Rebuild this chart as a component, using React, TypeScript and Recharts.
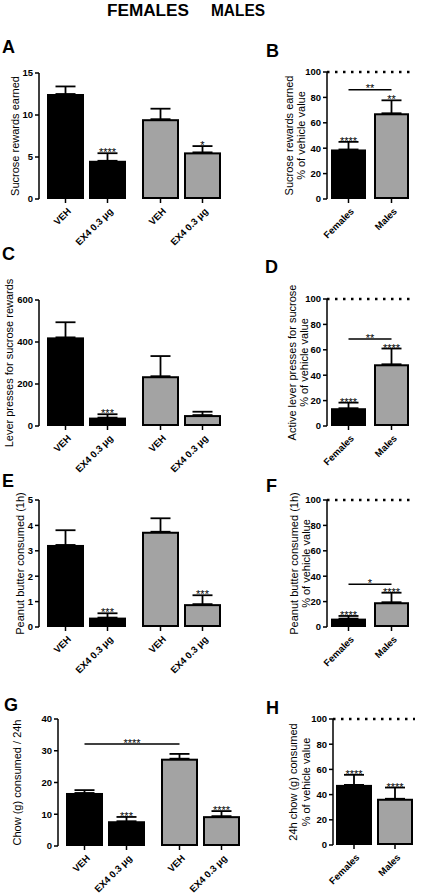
import React from 'react';
import { BarChart, Bar, XAxis, YAxis, ErrorBar, ReferenceLine } from 'recharts';

const FONT = '"Liberation Sans", Arial, Helvetica, sans-serif';
const BLACK = '#000000';
const GRAY = '#a3a3a3';

// ---------- categories / tick labels ----------
const sexes = ['Females', 'Males'];
const treatments = ['VEH', 'EX4 0.3 μg'];
const titleWords = ['FEMALES', 'MALES'];

// ---------- A: sucrose rewards earned ----------
const rewardsVeh = [12.5, 9.5];
const rewardsVehErr = [0.9, 1.25];
const rewardsEx4 = [4.55, 5.55];
const rewardsEx4Err = [0.9, 0.75];
const rewardsEx4Stars = ['****', '*'];
const rewardsTicks = [0, 5, 10, 15];

// ---------- B: sucrose rewards % of vehicle ----------
const rewardsPct = [39, 67.5];
const rewardsPctErr = [6, 10.2];
const rewardsPctStars = ['****', '**'];
const rewardsPctBracket = 86;
const rewardsPctBracketStars = '**';

// ---------- C: lever presses ----------
const pressesVeh = [422, 237];
const pressesVehErr = [72, 96];
const pressesEx4 = [40, 52];
const pressesEx4Err = [16, 16];
const pressesEx4Stars = ['***', ''];
const pressesTicks = [0, 200, 400, 600];

// ---------- D: lever presses % of vehicle ----------
const pressesPct = [14, 48.6];
const pressesPctErr = [4.4, 12.4];
const pressesPctStars = ['****', '****'];
const pressesPctBracket = 68.5;
const pressesPctBracketStars = '**';

// ---------- E: peanut butter ----------
const peanutVeh = [3.23, 3.75];
const peanutVehErr = [0.58, 0.53];
const peanutEx4 = [0.37, 0.9];
const peanutEx4Err = [0.17, 0.35];
const peanutEx4Stars = ['***', '***'];
const peanutTicks = [0, 1, 2, 3, 4, 5];

// ---------- F: peanut butter % of vehicle ----------
const peanutPct = [6.6, 19.5];
const peanutPctErr = [2.1, 7.5];
const peanutPctStars = ['****', '****'];
const peanutPctBracket = 33.6;
const peanutPctBracketStars = '*';

// ---------- G: chow 24h ----------
const chowVeh = [16.7, 27.5];
const chowVehErr = [0.9, 1.5];
const chowEx4 = [7.8, 9.4];
const chowEx4Err = [1.35, 1.6];
const chowEx4Stars = ['***', '****'];
const chowVehBracket = 32.1;
const chowVehBracketStars = '****';
const chowTicks = [0, 10, 20, 30, 40];

// ---------- H: chow % of vehicle ----------
const chowPct = [47.7, 36.7];
const chowPctErr = [8, 8.9];
const chowPctStars = ['****', '****'];

const pctTicks = [0, 20, 40, 60, 80, 100];
const vehicleLevel = 100;

type Bracket = { value: number; stars: string } | null;
type Series = {
  key: string;
  errKey: string;
  values: number[];
  errs: number[];
  stars: string[];
  labels: string[];
  bracket: Bracket;
};
type PanelCfg = {
  letter: string;
  letterPos: [number, number];
  box: { left: number; top: number; width: number; height: number };
  plot: { x0: number; x1: number; y0: number; y1: number };
  domain: [number, number];
  ticks: number[];
  yLabel: string[];
  yLabelX: number[];
  barSize: number;
  barGap: number;
  series: Series[];
  refLine: number | null;
};

const noStars = ['', ''];

function grouped(
  veh: number[], vehErr: number[], vehStars: string[], vehBracket: Bracket,
  ex4: number[], ex4Err: number[], ex4Stars: string[]
): Series[] {
  return [
    { key: 'veh', errKey: 'vehErr', values: veh, errs: vehErr, stars: vehStars, labels: [treatments[0], treatments[0]], bracket: vehBracket },
    { key: 'ex4', errKey: 'ex4Err', values: ex4, errs: ex4Err, stars: ex4Stars, labels: [treatments[1], treatments[1]], bracket: null },
  ];
}
function single(values: number[], errs: number[], stars: string[], bracket: Bracket): Series[] {
  return [{ key: 'pct', errKey: 'pctErr', values, errs, stars, labels: sexes, bracket }];
}

const PANELS: PanelCfg[] = [
  {
    letter: 'A', letterPos: [2, 53],
    box: { left: 0, top: 55, width: 236, height: 205 },
    plot: { x0: 39, x1: 229, y0: 73, y1: 199 },
    domain: [0, 15], ticks: rewardsTicks,
    yLabel: ['Sucrose rewards earned'], yLabelX: [14.5],
    barSize: 37, barGap: 5,
    series: grouped(rewardsVeh, rewardsVehErr, noStars, null, rewardsEx4, rewardsEx4Err, rewardsEx4Stars),
    refLine: null,
  },
  {
    letter: 'B', letterPos: [266, 57],
    box: { left: 236, top: 55, width: 186, height: 205 },
    plot: { x0: 327, x1: 413, y0: 72, y1: 199 },
    domain: [0, 100], ticks: pctTicks,
    yLabel: ['Sucrose rewards earned', '% of vehicle value'], yLabelX: [289, 301],
    barSize: 35, barGap: 4,
    series: single(rewardsPct, rewardsPctErr, rewardsPctStars, { value: rewardsPctBracket, stars: rewardsPctBracketStars }),
    refLine: vehicleLevel,
  },
  {
    letter: 'C', letterPos: [2, 260],
    box: { left: 0, top: 280, width: 236, height: 200 },
    plot: { x0: 39, x1: 229, y0: 300, y1: 426 },
    domain: [0, 600], ticks: pressesTicks,
    yLabel: ['Lever presses for sucrose rewards'], yLabelX: [9],
    barSize: 37, barGap: 5,
    series: grouped(pressesVeh, pressesVehErr, noStars, null, pressesEx4, pressesEx4Err, pressesEx4Stars),
    refLine: null,
  },
  {
    letter: 'D', letterPos: [265, 273],
    box: { left: 236, top: 280, width: 186, height: 200 },
    plot: { x0: 327, x1: 413, y0: 299, y1: 426 },
    domain: [0, 100], ticks: pctTicks,
    yLabel: ['Active lever presses for sucrose', '% of vehicle value'], yLabelX: [292, 304],
    barSize: 35, barGap: 4,
    series: single(pressesPct, pressesPctErr, pressesPctStars, { value: pressesPctBracket, stars: pressesPctBracketStars }),
    refLine: vehicleLevel,
  },
  {
    letter: 'E', letterPos: [2, 487],
    box: { left: 0, top: 490, width: 236, height: 205 },
    plot: { x0: 39, x1: 229, y0: 500, y1: 627 },
    domain: [0, 5], ticks: peanutTicks,
    yLabel: ['Peanut butter consumed (1h)'], yLabelX: [20],
    barSize: 37, barGap: 5,
    series: grouped(peanutVeh, peanutVehErr, noStars, null, peanutEx4, peanutEx4Err, peanutEx4Stars),
    refLine: null,
  },
  {
    letter: 'F', letterPos: [266, 492],
    box: { left: 236, top: 490, width: 186, height: 205 },
    plot: { x0: 327, x1: 413, y0: 500, y1: 627 },
    domain: [0, 100], ticks: pctTicks,
    yLabel: ['Peanut butter consumed (1h)', '% of vehicle value'], yLabelX: [294, 306],
    barSize: 35, barGap: 4,
    series: single(peanutPct, peanutPctErr, peanutPctStars, { value: peanutPctBracket, stars: peanutPctBracketStars }),
    refLine: vehicleLevel,
  },
  {
    letter: 'G', letterPos: [4, 711],
    box: { left: 0, top: 705, width: 255, height: 188 },
    plot: { x0: 58, x1: 248, y0: 719, y1: 846 },
    domain: [0, 40], ticks: chowTicks,
    yLabel: ['Chow (g) consumed / 24h'], yLabelX: [17],
    barSize: 37, barGap: 5,
    series: grouped(chowVeh, chowVehErr, noStars, { value: chowVehBracket, stars: chowVehBracketStars }, chowEx4, chowEx4Err, chowEx4Stars),
    refLine: null,
  },
  {
    letter: 'H', letterPos: [266, 714],
    box: { left: 252, top: 705, width: 170, height: 188 },
    plot: { x0: 333, x1: 415, y0: 719, y1: 845 },
    domain: [0, 100], ticks: pctTicks,
    yLabel: ['24h chow (g) consumed', '% of vehicle value'], yLabelX: [293, 306],
    barSize: 36, barGap: 4,
    series: single(chowPct, chowPctErr, chowPctStars, null),
    refLine: vehicleLevel,
  },
];

function renderBar(props: any, s: Series, band: number) {
  const { x, y, width, height, index } = props;
  if (x == null || y == null) return <g />;
  const cx = x + width / 2;
  const base = y + height;
  const v = s.values[index];
  const k = v ? height / v : 0;
  const errTop = y - s.errs[index] * k;
  const fill = index === 0 ? BLACK : GRAY;
  const lx = cx + 6;
  const ly = base + 13;
  const br = s.bracket && index === 0 ? s.bracket : null;
  const by = br ? base - br.value * k : 0;
  return (
    <g>
      <rect x={x + 1} y={y + 1} width={Math.max(width - 2, 0)} height={Math.max(height - 2, 0)} fill={fill} stroke={BLACK} strokeWidth={2} />
      <line x1={cx} x2={cx} y1={base} y2={base + 4} stroke={BLACK} strokeWidth={1.5} />
      <text x={lx} y={ly} transform={`rotate(-45 ${lx} ${ly})`} textAnchor="end" fontSize={9.5} fontWeight="bold" fontFamily={FONT} fill={BLACK}>
        {s.labels[index]}
      </text>
      {s.stars[index] ? (
        <text x={cx} y={errTop + 3} textAnchor="middle" fontSize={11} fontFamily={FONT} fill={BLACK}>
          {s.stars[index]}
        </text>
      ) : null}
      {br ? (
        <g>
          <line x1={cx} x2={cx + band} y1={by} y2={by} stroke={BLACK} strokeWidth={1.5} />
          <text x={cx + band / 2} y={by + 2.5} textAnchor="middle" fontSize={11} fontFamily={FONT} fill={BLACK}>
            {br.stars}
          </text>
        </g>
      ) : null}
    </g>
  );
}

function Panel({ cfg }: { cfg: PanelCfg }) {
  const { box, plot } = cfg;
  const margin = {
    top: plot.y0 - box.top,
    bottom: box.top + box.height - plot.y1,
    left: 0,
    right: box.left + box.width - plot.x1,
  };
  const yAxisWidth = plot.x0 - box.left;
  const band = (plot.x1 - plot.x0) / 2;
  const data = sexes.map((sex, i) => {
    const row: any = { sex };
    cfg.series.forEach((s) => {
      row[s.key] = s.values[i];
      row[s.errKey] = [0, s.errs[i]];
    });
    return row;
  });
  return (
    <div style={{ position: 'absolute', left: box.left, top: box.top }}>
      <BarChart width={box.width} height={box.height} data={data} margin={margin} barGap={cfg.barGap}>
        <XAxis
          dataKey="sex"
          height={0}
          tick={false}
          tickLine={false}
          axisLine={{ stroke: BLACK, strokeWidth: 1.5 }}
        />
        <YAxis
          type="number"
          width={yAxisWidth}
          domain={cfg.domain}
          ticks={cfg.ticks}
          interval={0}
          tickSize={4}
          tickMargin={2}
          axisLine={{ stroke: BLACK, strokeWidth: 1.5 }}
          tickLine={{ stroke: BLACK, strokeWidth: 1.5 }}
          tick={{ fontSize: 9.5, fontWeight: 'bold', fill: BLACK, fontFamily: FONT }}
        />
        {cfg.series.map((s) => (
          <Bar
            key={s.key}
            dataKey={s.key}
            barSize={cfg.barSize}
            isAnimationActive={false}
            shape={(p: any) => renderBar(p, s, band)}
          >
            <ErrorBar dataKey={s.errKey} direction="y" width={10} stroke={BLACK} strokeWidth={1.8} />
          </Bar>
        ))}
        {cfg.refLine != null ? (
          <ReferenceLine y={cfg.refLine} stroke={BLACK} strokeWidth={2.5} strokeDasharray="2.5 5.5" />
        ) : null}
      </BarChart>
    </div>
  );
}

export default function App() {
  return (
    <div style={{ position: 'absolute', left: 0, top: 0, width: 422, height: 893, background: '#ffffff', fontFamily: FONT }}>
      {PANELS.map((p) => (
        <Panel key={p.letter} cfg={p} />
      ))}
      <svg width={422} height={893} style={{ position: 'absolute', left: 0, top: 0, pointerEvents: 'none' }}>
        <text x={107} y={15.5} fontSize={16} fontWeight="bold" fontFamily={FONT} textLength={82} lengthAdjust="spacingAndGlyphs">
          {titleWords[0]}
        </text>
        <text x={211} y={15.5} fontSize={16} fontWeight="bold" fontFamily={FONT} textLength={54} lengthAdjust="spacingAndGlyphs">
          {titleWords[1]}
        </text>
        {PANELS.map((p) => (
          <g key={p.letter}>
            <text x={p.letterPos[0]} y={p.letterPos[1]} fontSize={18} fontWeight="bold" fontFamily={FONT}>
              {p.letter}
            </text>
            {p.yLabel.map((line, i) => {
              const bx = p.yLabelX[i] + 4;
              const cy = (p.plot.y0 + p.plot.y1) / 2;
              return (
                <text key={i} x={bx} y={cy} transform={`rotate(-90 ${bx} ${cy})`} textAnchor="middle" fontSize={11} fontFamily={FONT} fill={BLACK}>
                  {line}
                </text>
              );
            })}
          </g>
        ))}
      </svg>
    </div>
  );
}
